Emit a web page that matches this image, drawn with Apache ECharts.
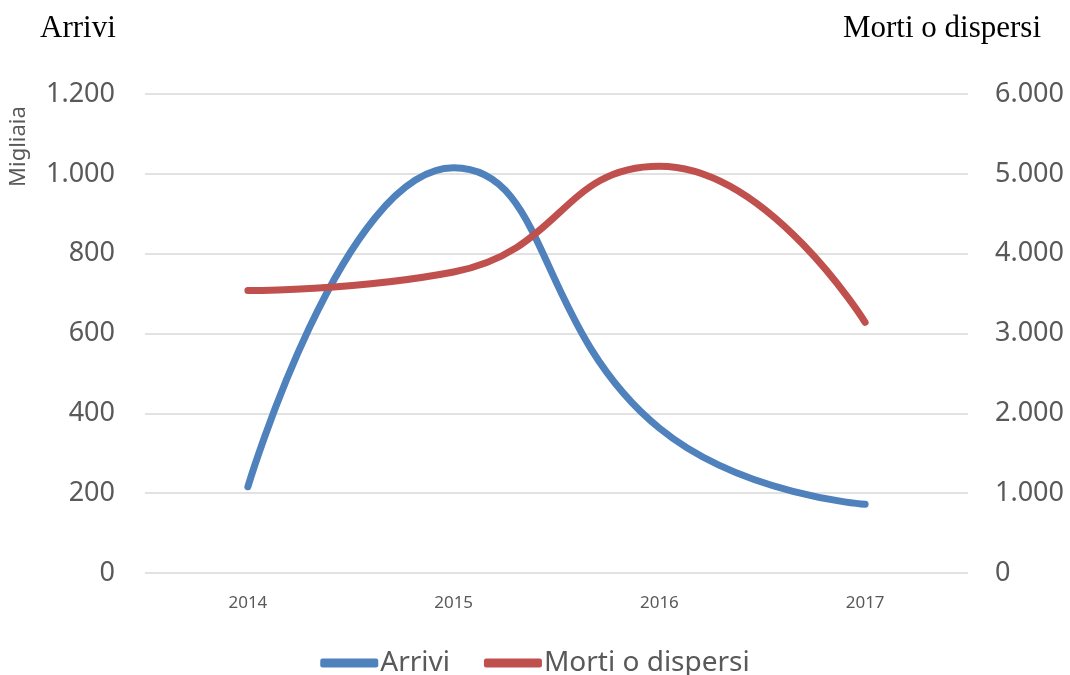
<!DOCTYPE html>
<html>
<head>
<meta charset="utf-8">
<script src="https://cdn.jsdelivr.net/npm/echarts@6/dist/echarts.min.js"></script>
<style>
  html, body { margin: 0; padding: 0; background: #fff; }
  #chart { width: 1070px; height: 675px; }
</style>
</head>
<body>
<div id="chart"></div>
<script>
const years = ['2014', '2015', '2016', '2017']
// arrivi in migliaia
const arrivi = [216, 1015, 363, 172]
const morti = [3538, 3771, 5096, 3139]

const fmt = v => String(v).replace(/\B(?=(\d{3})+(?!\d))/g, '.')

const chart = echarts.init(document.getElementById('chart'))

const labelFont = {
  color: '#595959',
  fontFamily: 'Noto Sans',
  fontSize: 27
}

chart.setOption({
  animation: false,
  title: [
    {
      text: 'Arrivi',
      left: 35,
      top: 8,
      textStyle: { fontFamily: 'Liberation Serif', fontWeight: 'normal', fontSize: 31, color: '#000' }
    },
    {
      text: 'Morti o dispersi',
      right: 24,
      top: 8,
      textStyle: { fontFamily: 'Liberation Serif', fontWeight: 'normal', fontSize: 31, color: '#000' }
    }
  ],
  graphic: [
    {
      type: 'text',
      x: 8,
      y: 187,
      rotation: Math.PI / 2,
      style: {
        text: 'Migliaia',
        fill: '#595959',
        font: '22px "Noto Sans"',
        textVerticalAlign: 'top'
      }
    }
  ],
  legend: {
    left: 'center',
    top: 644,
    itemWidth: 58,
    itemHeight: 9,
    itemGap: 34,
    icon: 'roundRect',
    textStyle: {
      color: '#595959',
      fontFamily: 'Noto Sans',
      fontSize: 28,
      padding: [0, 0, 0, -3]
    },
    data: ['Arrivi', 'Morti o dispersi']
  },
  grid: {
    left: 145,
    right: 102,
    top: 94,
    bottom: 102
  },
  xAxis: {
    type: 'category',
    data: years,
    boundaryGap: true,
    axisLine: { show: false },
    axisTick: { show: false },
    axisLabel: {
      color: '#595959',
      fontFamily: 'Noto Sans',
      fontSize: 17,
      margin: 22
    }
  },
  yAxis: [
    {
      type: 'value',
      min: 0,
      max: 1200,
      interval: 200,
      axisLine: { show: false },
      axisTick: { show: false },
      splitLine: { lineStyle: { color: '#D9D9D9', width: 1.5 } },
      axisLabel: Object.assign({ margin: 30, formatter: fmt }, labelFont)
    },
    {
      type: 'value',
      min: 0,
      max: 6000,
      interval: 1000,
      axisLine: { show: false },
      axisTick: { show: false },
      splitLine: { show: false },
      axisLabel: Object.assign({ margin: 27, formatter: fmt }, labelFont)
    }
  ],
  series: [
    {
      name: 'Arrivi',
      type: 'line',
      yAxisIndex: 0,
      smooth: true,
      showSymbol: false,
      color: '#4F81BD',
      lineStyle: { width: 7, cap: 'round' },
      data: arrivi
    },
    {
      name: 'Morti o dispersi',
      type: 'line',
      yAxisIndex: 1,
      smooth: true,
      showSymbol: false,
      color: '#C0504D',
      lineStyle: { width: 7, cap: 'round' },
      data: morti
    }
  ]
})
</script>
</body>
</html>
